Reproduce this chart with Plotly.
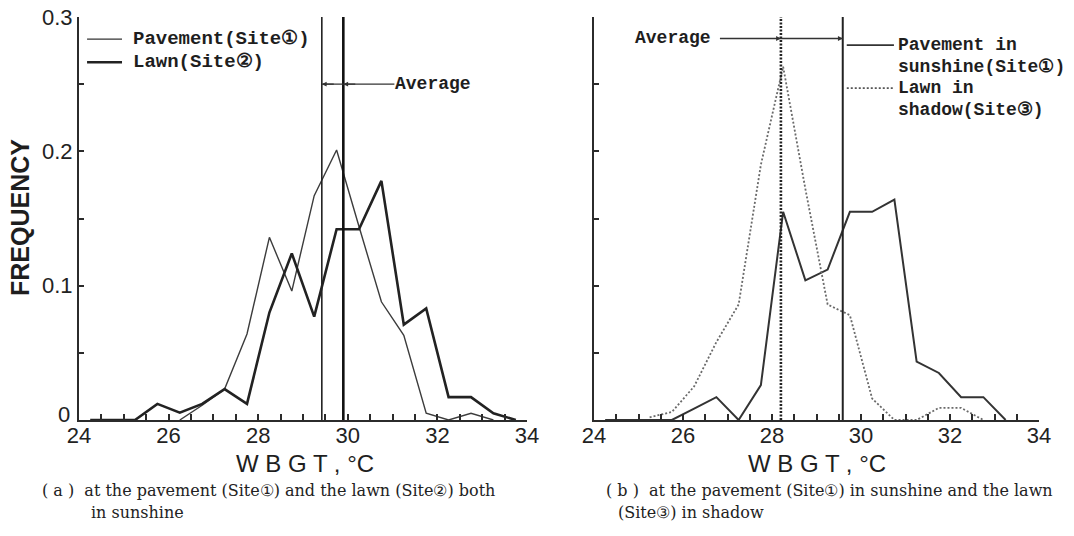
import plotly.graph_objects as go

# ---------------- data ----------------
wbgt = [24.25, 24.75, 25.25, 25.75, 26.25, 26.75, 27.25, 27.75, 28.25, 28.75,
        29.25, 29.75, 30.25, 30.75, 31.25, 31.75, 32.25, 32.75, 33.25, 33.75]

# (a) both in sunshine
pavement_a = [None, None, None, None, 0.0, 0.011, 0.023, 0.064, 0.136, 0.096,
              0.167, 0.201, 0.144, 0.088, 0.063, 0.005, 0.0, 0.005, 0.0, None]
lawn_a = [0.0, 0.0, 0.0, 0.012, 0.0055, 0.012, 0.023, 0.012, 0.08, 0.124,
          0.077, 0.142, 0.142, 0.178, 0.071, 0.083, 0.017, 0.017, 0.005, 0.0]

# (b) pavement in sunshine, lawn in shadow
pavement_b = [0.0, 0.0, 0.0, 0.0, 0.0085, 0.017, 0.0, 0.026, 0.155, 0.104,
              0.112, 0.155, 0.155, 0.164, 0.0435, 0.035, 0.017, 0.017, 0.0, None]
lawn_shadow_b = [None, None, 0.002, 0.006, 0.025, 0.058, 0.086, 0.19, 0.263, 0.172,
                 0.086, 0.078, 0.016, 0.0, 0.0, 0.009, 0.009, 0.0, None, None]

avg_a_pavement = 29.42
avg_a_lawn = 29.9
avg_b_pavement = 29.59
avg_b_lawn = 28.2

x_tickvals = [24, 24.5, 25, 25.5, 26, 26.5, 27, 27.5, 28, 28.5, 29, 29.5,
              30, 30.5, 31, 31.5, 32, 32.5, 33, 33.5, 34]
x_ticktext = ["24", "", "", "", "26", "", "", "", "28", "", "", "",
              "30", "", "", "", "32", "", "", "", "34"]
y_tickvals = [0, 0.05, 0.1, 0.15, 0.2, 0.25, 0.3]
y_ticktext = ["", "", "0.1", "", "0.2", "", "0.3"]   # "0" is placed separately
y_zero_label = "0"

# ---------------- styling ----------------
W, H = 1074, 536
INK = "#2b2b2b"
MONO = "Liberation Mono, DejaVu Sans Mono, monospace"
SANS = "Liberation Sans, Arial, sans-serif"
SERIF = "DejaVu Serif, Liberation Serif, serif"

fig = go.Figure()

# (a)
fig.add_trace(go.Scatter(x=wbgt, y=pavement_a, mode="lines", xaxis="x", yaxis="y",
                         line=dict(color="#3c3c3c", width=1.4), showlegend=False))
fig.add_trace(go.Scatter(x=wbgt, y=lawn_a, mode="lines", xaxis="x", yaxis="y",
                         line=dict(color="#222222", width=2.6), showlegend=False))
fig.add_trace(go.Scatter(x=[avg_a_pavement, avg_a_pavement], y=[0, 0.3], mode="lines",
                         xaxis="x", yaxis="y", line=dict(color="#222", width=1.6),
                         showlegend=False))
fig.add_trace(go.Scatter(x=[avg_a_lawn, avg_a_lawn], y=[0, 0.3], mode="lines",
                         xaxis="x", yaxis="y", line=dict(color="#111", width=2.6),
                         showlegend=False))

# (b)
fig.add_trace(go.Scatter(x=wbgt, y=pavement_b, mode="lines", xaxis="x2", yaxis="y2",
                         line=dict(color="#333333", width=2.0), showlegend=False))
fig.add_trace(go.Scatter(x=wbgt, y=lawn_shadow_b, mode="lines", xaxis="x2", yaxis="y2",
                         line=dict(color="#6a6a6a", width=1.8, dash="2px,2px"),
                         showlegend=False))
fig.add_trace(go.Scatter(x=[avg_b_lawn, avg_b_lawn], y=[0, 0.3], mode="lines",
                         xaxis="x2", yaxis="y2",
                         line=dict(color="#222", width=2.6, dash="2px,1.5px"),
                         showlegend=False))
fig.add_trace(go.Scatter(x=[avg_b_pavement, avg_b_pavement], y=[0, 0.3], mode="lines",
                         xaxis="x2", yaxis="y2", line=dict(color="#222", width=2.0),
                         showlegend=False))

ydom = [1 - 420 / H, 1 - 17 / H]
xaxis_common = dict(range=[24, 34], tickvals=x_tickvals, ticktext=x_ticktext,
                    ticks="inside", ticklen=6, tickwidth=1.5, tickcolor=INK,
                    showline=True, linewidth=2, linecolor=INK, showgrid=False,
                    zeroline=False, automargin=False, ticklabelstandoff=-5,
                    tickfont=dict(family=SANS, size=22, color="#222"))
yaxis_common = dict(range=[0, 0.3], tickvals=y_tickvals, ticktext=y_ticktext,
                    ticks="inside", ticklen=5, tickwidth=1.5, tickcolor=INK,
                    showline=True, linewidth=2, linecolor=INK, showgrid=False,
                    zeroline=False, automargin=False, domain=ydom,
                    tickfont=dict(family=SANS, size=22, color="#222"))

fig.update_layout(
    width=W, height=H,
    margin=dict(l=0, r=0, t=0, b=0, pad=0),
    paper_bgcolor="white", plot_bgcolor="white",
    xaxis=dict(domain=[79 / W, 527 / W], anchor="y", **xaxis_common),
    yaxis=dict(anchor="x", **yaxis_common),
    xaxis2=dict(domain=[594 / W, 1039 / W], anchor="y2", **xaxis_common),
    yaxis2=dict(anchor="x2", showticklabels=False, **yaxis_common),
)

shapes = []
annos = []

def txt(x, y, s, xref, yref, size, family, xanchor="left", **kw):
    annos.append(dict(x=x, y=y, xref=xref, yref=yref, text=s, showarrow=False,
                      xanchor=xanchor, yanchor="middle",
                      font=dict(family=family, size=size, color="#1e1e1e"), **kw))

# "0" of the frequency axis, sitting just above the corner as in the reference
annos.append(dict(x=64 / W, y=1 - 414 / H, xref="paper", yref="paper", text=y_zero_label,
                  showarrow=False, xanchor="center", yanchor="middle",
                  font=dict(family=SANS, size=22, color="#222")))

# ----- legend (a)
shapes.append(dict(type="line", xref="x", yref="y", x0=24.18, x1=24.96, y0=0.2835, y1=0.2835,
                   line=dict(color="#333", width=1.4)))
shapes.append(dict(type="line", xref="x", yref="y", x0=24.18, x1=24.96, y0=0.2663, y1=0.2663,
                   line=dict(color="#222", width=2.6)))
txt(25.16, 0.2835, "<b>Pavement(Site①)</b>", "x", "y", 19, MONO)
txt(25.16, 0.2663, "<b>Lawn(Site②)</b>", "x", "y", 19, MONO)

# ----- Average (a)
shapes.append(dict(type="line", xref="x", yref="y", x0=avg_a_pavement, x1=31.04,
                   y0=0.25, y1=0.25, line=dict(color="#333", width=1.3)))
for xv in (avg_a_pavement, avg_a_lawn):
    annos.append(dict(x=xv, y=0.25, xref="x", yref="y", ax=xv + 0.3, ay=0.25,
                      axref="x", ayref="y", text="", showarrow=True, arrowhead=2,
                      arrowsize=0.8, arrowwidth=1.2, arrowcolor="#333"))
txt(31.0, 0.25, "<b>Average</b>", "x", "y", 18, MONO)

# ----- legend (b)
shapes.append(dict(type="line", xref="x2", yref="y2", x0=29.68, x1=30.74, y0=0.279, y1=0.279,
                   line=dict(color="#333", width=1.8)))
shapes.append(dict(type="line", xref="x2", yref="y2", x0=29.68, x1=30.74, y0=0.247, y1=0.247,
                   line=dict(color="#555", width=1.8, dash="2px,2px")))
for yv, s in ((0.279, "Pavement in"), (0.263, "sunshine(Site①)"),
              (0.247, "Lawn in"), (0.231, "shadow(Site③)")):
    txt(30.78, yv, "<b>" + s + "</b>", "x2", "y2", 18, MONO)

# ----- Average (b)
shapes.append(dict(type="line", xref="x2", yref="y2", x0=26.83, x1=avg_b_pavement,
                   y0=0.284, y1=0.284, line=dict(color="#333", width=1.3)))
for xv in (avg_b_lawn, avg_b_pavement):
    annos.append(dict(x=xv, y=0.284, xref="x2", yref="y2", ax=xv - 0.3, ay=0.284,
                      axref="x2", ayref="y2", text="", showarrow=True, arrowhead=2,
                      arrowsize=0.8, arrowwidth=1.2, arrowcolor="#333"))
txt(26.67, 0.284, "<b>Average</b>", "x2", "y2", 18, MONO, xanchor="right")

# ----- axis titles
annos.append(dict(x=20 / W, y=1 - 218 / H, xref="paper", yref="paper", text="<b>FREQUENCY</b>",
                  showarrow=False, textangle=-90, xanchor="center", yanchor="middle",
                  font=dict(family=SANS, size=25, color="#1e1e1e")))
for cx in (305, 817):
    annos.append(dict(x=cx / W, y=1 - 463 / H, xref="paper", yref="paper",
                      text="W B G T , °C", showarrow=False, xanchor="center",
                      yanchor="middle", font=dict(family=SANS, size=24, color="#1e1e1e")))

# ----- captions
cap = dict(xref="paper", yref="paper", showarrow=False, xanchor="left", yanchor="middle",
           font=dict(family=SERIF, size=16, color="#222"))
annos.append(dict(x=40 / W, y=1 - 490 / H,
                  text="( a )  at the pavement (Site①) and the lawn (Site②) both", **cap))
annos.append(dict(x=89 / W, y=1 - 512 / H, text="in sunshine", **cap))
annos.append(dict(x=604 / W, y=1 - 490 / H,
                  text="( b )  at the pavement (Site①) in sunshine and the lawn", **cap))
annos.append(dict(x=616 / W, y=1 - 512 / H, text="(Site③) in shadow", **cap))

fig.update_layout(shapes=shapes, annotations=annos)
fig.write_html("out.html", config={"displayModeBar": False},
               post_script="document.body.style.margin='0';")
